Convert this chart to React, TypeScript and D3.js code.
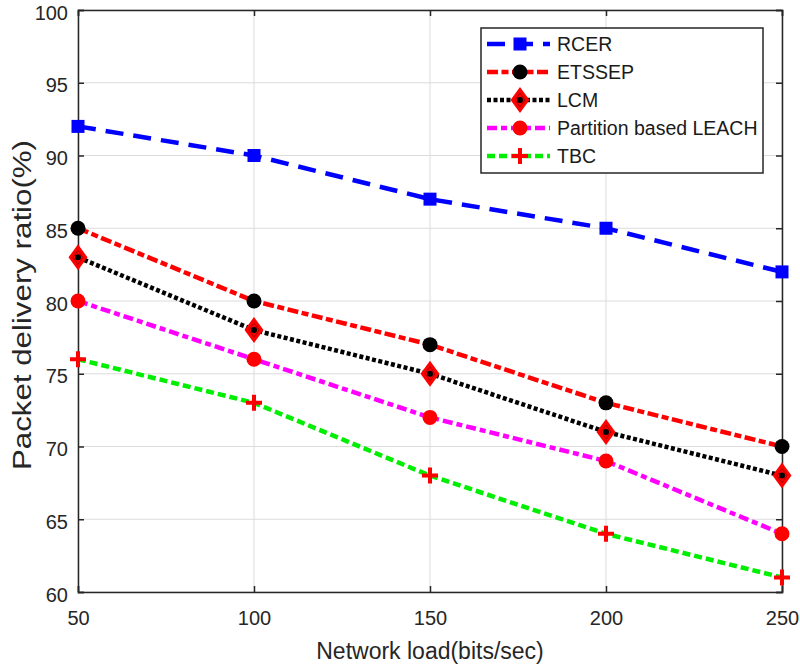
import { useRef, useEffect } from "react";
import * as d3 from "d3";

const loads = [50, 100, 150, 200, 250];
const rcer = [92, 90, 87, 85, 82];
const etssep = [85, 80, 77, 73, 70];
const lcm = [83, 78, 75, 71, 68];
const partition = [80, 76, 72, 69, 64];
const tbc = [76, 73, 68, 64, 61];
const yTicks = [60, 65, 70, 75, 80, 85, 90, 95, 100];

const series = [
  { name: "RCER", values: rcer, color: "#0000ff", dash: "18,10", marker: "square", mfill: "#0000ff" },
  { name: "ETSSEP", values: etssep, color: "#ff0000", dash: "11,3.5,7,3.5", marker: "circle", mfill: "#000000" },
  { name: "LCM", values: lcm, color: "#000000", dash: "4,2.5", marker: "diamond", mfill: "#ff0000" },
  { name: "Partition based LEACH", values: partition, color: "#ff00ff", dash: "10,4,6,4", marker: "circle", mfill: "#ff0000" },
  { name: "TBC", values: tbc, color: "#00ee00", dash: "8,4", marker: "plus", mfill: "#ff0000" },
];

export default function App() {
  const svgRef = useRef(null);

  useEffect(() => {
    const W = 800, H = 667;
    const left = 78, right = 782, top = 10, bottom = 592;
    const font = "'Liberation Sans', Arial, sans-serif";

    const svg = d3.select(svgRef.current).attr("width", W).attr("height", H);
    svg.selectAll("*").remove();
    svg.append("rect").attr("width", W).attr("height", H).attr("fill", "#fff");

    const x = d3.scaleLinear().domain([50, 250]).range([left, right]);
    const y = d3.scaleLinear().domain([60, 100]).range([bottom, top]);

    // grid
    const g = svg.append("g");
    g.selectAll(".gx").data(loads).enter().append("line")
      .attr("x1", (d) => x(d)).attr("x2", (d) => x(d))
      .attr("y1", top).attr("y2", bottom)
      .attr("stroke", "#dcdcdc").attr("stroke-width", 1);
    g.selectAll(".gy").data(yTicks).enter().append("line")
      .attr("x1", left).attr("x2", right)
      .attr("y1", (d) => y(d)).attr("y2", (d) => y(d))
      .attr("stroke", "#dcdcdc").attr("stroke-width", 1);

    // axes
    const xAxis = svg.append("g")
      .attr("transform", `translate(0,${bottom})`)
      .call(d3.axisBottom(x).tickValues(loads).tickSize(-6).tickPadding(19));
    const yAxis = svg.append("g")
      .attr("transform", `translate(${left},0)`)
      .call(d3.axisLeft(y).tickValues(yTicks).tickSize(-6).tickPadding(10));
    svg.append("g")
      .attr("transform", `translate(${right},0)`)
      .call(d3.axisRight(y).tickValues(yTicks).tickSize(-6).tickFormat(() => ""));
    svg.append("g")
      .attr("transform", `translate(0,${top})`)
      .call(d3.axisTop(x).tickValues(loads).tickSize(-6).tickFormat(() => ""));
    [xAxis, yAxis].forEach((a) => {
      a.selectAll("text").attr("font-family", font).attr("font-size", 20).attr("fill", "#262626");
    });
    yAxis.selectAll("text").attr("dy", "0.45em");
    svg.selectAll(".domain").attr("stroke", "#262626").attr("stroke-width", 1.5);
    svg.selectAll(".tick line").attr("stroke", "#262626").attr("stroke-width", 1.5);

    // axis labels
    svg.append("text")
      .attr("x", 430).attr("y", 659)
      .attr("text-anchor", "middle")
      .attr("font-family", font).attr("font-size", 23).attr("fill", "#262626")
      .text("Network load(bits/sec)");
    svg.append("text")
      .attr("transform", "rotate(-90)")
      .attr("x", -305).attr("y", 31)
      .attr("text-anchor", "middle")
      .attr("font-family", font).attr("font-size", 25).attr("fill", "#262626")
      .attr("textLength", 330).attr("lengthAdjust", "spacingAndGlyphs")
      .text("Packet delivery ratio(%)");

    const drawMarker = (sel, s, cx, cy) => {
      if (s.marker === "square") {
        sel.append("rect").attr("x", cx - 6.5).attr("y", cy - 6.5).attr("width", 13).attr("height", 13)
          .attr("fill", s.mfill);
      } else if (s.marker === "circle") {
        sel.append("circle").attr("cx", cx).attr("cy", cy).attr("r", 7.5).attr("fill", s.mfill);
      } else if (s.marker === "diamond") {
        sel.append("path").attr("d", `M${cx},${cy - 13}L${cx + 9.5},${cy}L${cx},${cy + 13}L${cx - 9.5},${cy}Z`)
          .attr("fill", "#ff0000");
        sel.append("path").attr("d", `M${cx},${cy - 7}L${cx + 5},${cy}L${cx},${cy + 7}L${cx - 5},${cy}Z`)
          .attr("fill", "none").attr("stroke", "#aa0000").attr("stroke-width", 1);
        sel.append("circle").attr("cx", cx).attr("cy", cy).attr("r", 3).attr("fill", "#000");
      } else if (s.marker === "plus") {
        sel.append("path").attr("d", `M${cx - 8},${cy}H${cx + 8}M${cx},${cy - 8}V${cy + 8}`)
          .attr("stroke", s.mfill).attr("stroke-width", 4);
      }
    };

    const line = d3.line().x((d) => x(d[0])).y((d) => y(d[1]));
    series.forEach((s) => {
      const pts = loads.map((l, i) => [l, s.values[i]]);
      svg.append("path").datum(pts)
        .attr("fill", "none").attr("stroke", s.color).attr("stroke-width", 4.5)
        .attr("stroke-dasharray", s.dash).attr("d", line);
      const mg = svg.append("g");
      pts.forEach((p) => drawMarker(mg, s, x(p[0]), y(p[1])));
    });

    // legend
    const lg = svg.append("g");
    lg.append("rect").attr("x", 481).attr("y", 28).attr("width", 282).attr("height", 145)
      .attr("fill", "#fff").attr("stroke", "#262626").attr("stroke-width", 1.5);
    series.forEach((s, i) => {
      const ly = 44 + i * 28;
      lg.append("line").attr("x1", 487).attr("x2", 550).attr("y1", ly).attr("y2", ly)
        .attr("stroke", s.color).attr("stroke-width", 4.5).attr("stroke-dasharray", s.dash);
      drawMarker(lg, s, 520, ly);
      lg.append("text").attr("x", 557).attr("y", ly).attr("dy", "0.36em")
        .attr("font-family", font).attr("font-size", 19.5).attr("fill", "#1a1a1a")
        .text(s.name);
    });
  }, []);

  return (
    <div style={{ position: "absolute", left: 0, top: 0 }}>
      <svg ref={svgRef} style={{ display: "block" }}></svg>
    </div>
  );
}
